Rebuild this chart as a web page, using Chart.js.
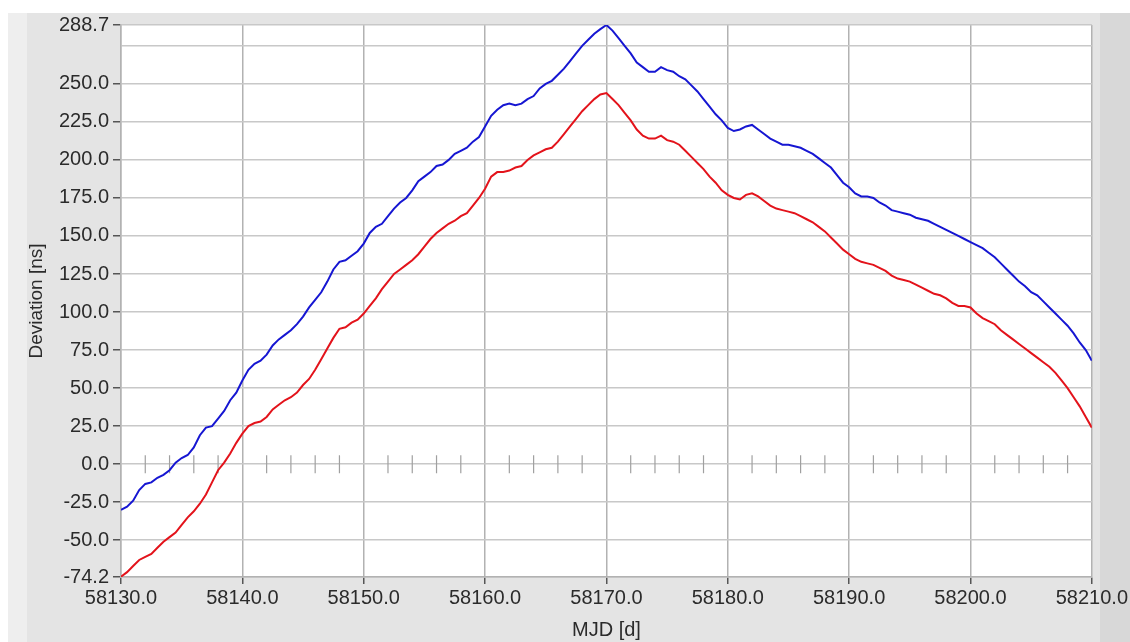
<!DOCTYPE html>
<html>
<head>
<meta charset="utf-8">
<script src="https://cdn.jsdelivr.net/npm/chart.js@4.4.1/dist/chart.umd.min.js"></script>
<style>
  html, body { margin: 0; padding: 0; background: #ffffff; }
  #wrap { width: 1130px; height: 642px; }
</style>
</head>
<body>
<div id="wrap"><canvas id="chart" width="1130" height="642"></canvas></div>
<script>
// readings every half day, starting at MJD 58130
var mjdStart = 58130;
var stepDays = 0.5;

// upper trace (blue), ns
var blueValues = [
  -30, -28, -24, -17, -13, -12, -9, -7, -4, 1,
  4, 6, 11, 19, 24, 25, 30, 35, 42, 47,
  55, 62, 66, 68, 72, 78, 82, 85, 88, 92,
  97, 103, 108, 113, 120, 128, 133, 134, 137, 140,
  145, 152, 156, 158, 163, 168, 172, 175, 180, 186,
  189, 192, 196, 197, 200, 204, 206, 208, 212, 215,
  222, 229, 233, 236, 237, 236, 237, 240, 242, 247,
  250, 252, 256, 260, 265, 270, 275, 279, 283, 286,
  288.7, 285, 280, 275, 270, 264, 261, 258, 258, 261,
  259, 258, 255, 253, 249, 245, 240, 235, 230, 226,
  221, 219, 220, 222, 223, 220, 217, 214, 212, 210,
  210, 209, 208, 206, 204, 201, 198, 195, 190, 185,
  182, 178, 176, 176, 175, 172, 170, 167, 166, 165,
  164, 162, 161, 160, 158, 156, 154, 152, 150, 148,
  146, 144, 142, 139, 136, 132, 128, 124, 120, 117,
  113, 111, 107, 103, 99, 95, 91, 86, 80, 75,
  68
];

// lower trace (red), ns
var redValues = [
  -74, -71, -67, -63, -61, -59, -55, -51, -48, -45,
  -40, -35, -31, -26, -20, -12, -4, 1, 7, 14,
  20, 25, 27, 28, 31, 36, 39, 42, 44, 47,
  52, 56, 62, 69, 76, 83, 89, 90, 93, 95,
  99, 104, 109, 115, 120, 125, 128, 131, 134, 138,
  143, 148, 152, 155, 158, 160, 163, 165, 170, 175,
  181, 189, 192, 192, 193, 195, 196, 200, 203, 205,
  207, 208, 212, 217, 222, 227, 232, 236, 240, 243,
  244, 240, 236, 231, 226, 220, 216, 214, 214, 216,
  213, 212, 210, 206, 202, 198, 194, 189, 185, 180,
  177, 175, 174, 177, 178, 176, 173, 170, 168, 167,
  166, 165, 163, 161, 159, 156, 153, 149, 145, 141,
  138, 135, 133, 132, 131, 129, 127, 124, 122, 121,
  120, 118, 116, 114, 112, 111, 109, 106, 104, 104,
  103, 99, 96, 94, 92, 88, 85, 82, 79, 76,
  73, 70, 67, 64, 60, 55, 50, 44, 38, 31,
  24
];

// small marks sitting on the zero line
var markDays = [
  58132, 58134, 58136, 58138, 58142, 58144, 58146, 58148,
  58152, 58154, 58156, 58158, 58162, 58164, 58166, 58168,
  58172, 58174, 58176, 58178, 58182, 58184, 58186, 58188,
  58192, 58194, 58196, 58198, 58202, 58204, 58206, 58208
];

var xTicks = [58130, 58140, 58150, 58160, 58170, 58180, 58190, 58200, 58210];
var yTicks = [-74.2, -50, -25, 0, 25, 50, 75, 100, 125, 150, 175, 200, 225, 250, 275, 288.7];
var yHidden = [275];

function toPoints(values) {
  var pts = [];
  for (var i = 0; i < values.length; i++) {
    pts.push({ x: mjdStart + i * stepDays, y: values[i] });
  }
  return pts;
}

var fontFamily = "'Liberation Sans', Arial, sans-serif";
var tickFont = { family: fontFamily, size: 20 };
var textColor = '#2b2b2b';

// paints the grey panel behind the plot
var panelBg = {
  id: 'panelBg',
  beforeDraw: function (chart) {
    var ctx = chart.ctx, a = chart.chartArea;
    ctx.save();
    ctx.fillStyle = '#ffffff';
    ctx.fillRect(0, 0, chart.width, chart.height);
    ctx.fillStyle = '#e4e4e4';
    ctx.fillRect(8, 13, chart.width - 8, chart.height - 13);
    ctx.fillStyle = '#eeeeee';
    ctx.fillRect(8, 13, 19, chart.height - 13);
    ctx.fillStyle = '#d8d8d8';
    ctx.fillRect(1100, 13, 30, chart.height - 13);
    ctx.fillStyle = '#ffffff';
    ctx.fillRect(a.left, a.top, a.right - a.left, a.bottom - a.top);
    ctx.restore();
  }
};

new Chart(document.getElementById('chart'), {
  type: 'line',
  data: {
    datasets: [
      {
        data: toPoints(blueValues),
        borderColor: '#1616d2',
        borderWidth: 2,
        pointRadius: 0,
        tension: 0
      },
      {
        data: toPoints(redValues),
        borderColor: '#e3131b',
        borderWidth: 2,
        pointRadius: 0,
        tension: 0
      },
      {
        data: markDays.map(function (m) { return { x: m, y: 0 }; }),
        showLine: false,
        pointStyle: 'line',
        rotation: 90,
        pointRadius: 9,
        borderColor: '#a0a0a0',
        borderWidth: 1.2
      }
    ]
  },
  options: {
    responsive: false,
    animation: false,
    layout: { padding: { top: 25, right: 36, left: 0, bottom: 0 } },
    plugins: { legend: { display: false }, tooltip: { enabled: false } },
    scales: {
      x: {
        type: 'linear',
        min: 58130,
        max: 58210,
        afterBuildTicks: function (s) {
          s.ticks = xTicks.map(function (v) { return { value: v }; });
        },
        afterFit: function (s) { s.height = 65; },
        grid: { color: '#b2b2b2', lineWidth: 1.5, tickLength: 7, tickColor: '#555555' },
        border: { color: '#b2b2b2', width: 1.5 },
        ticks: {
          font: tickFont,
          color: textColor,
          padding: 2,
          maxRotation: 0,
          autoSkip: false,
          callback: function (v) { return Number(v).toFixed(1); }
        },
        title: {
          display: true,
          text: 'MJD [d]',
          font: tickFont,
          color: textColor,
          padding: { top: 0, bottom: 0 }
        }
      },
      y: {
        min: -74.2,
        max: 288.7,
        afterBuildTicks: function (s) {
          s.ticks = yTicks.map(function (v) { return { value: v }; });
        },
        afterFit: function (s) { s.width = 121; },
        grid: {
          color: '#c8c8c8',
          lineWidth: 1.5,
          tickLength: 8,
          tickColor: function (c) {
            return c.tick && yHidden.indexOf(c.tick.value) >= 0 ? 'rgba(0,0,0,0)' : '#555555';
          }
        },
        border: { color: '#b2b2b2', width: 1.5 },
        ticks: {
          font: tickFont,
          color: textColor,
          padding: 4,
          autoSkip: false,
          callback: function (v) {
            return yHidden.indexOf(v) >= 0 ? '' : Number(v).toFixed(1);
          }
        },
        title: {
          display: true,
          text: 'Deviation [ns]',
          font: { family: fontFamily, size: 19 },
          color: textColor,
          padding: { top: 25, bottom: 0 }
        }
      }
    }
  },
  plugins: [panelBg]
});
</script>
</body>
</html>
